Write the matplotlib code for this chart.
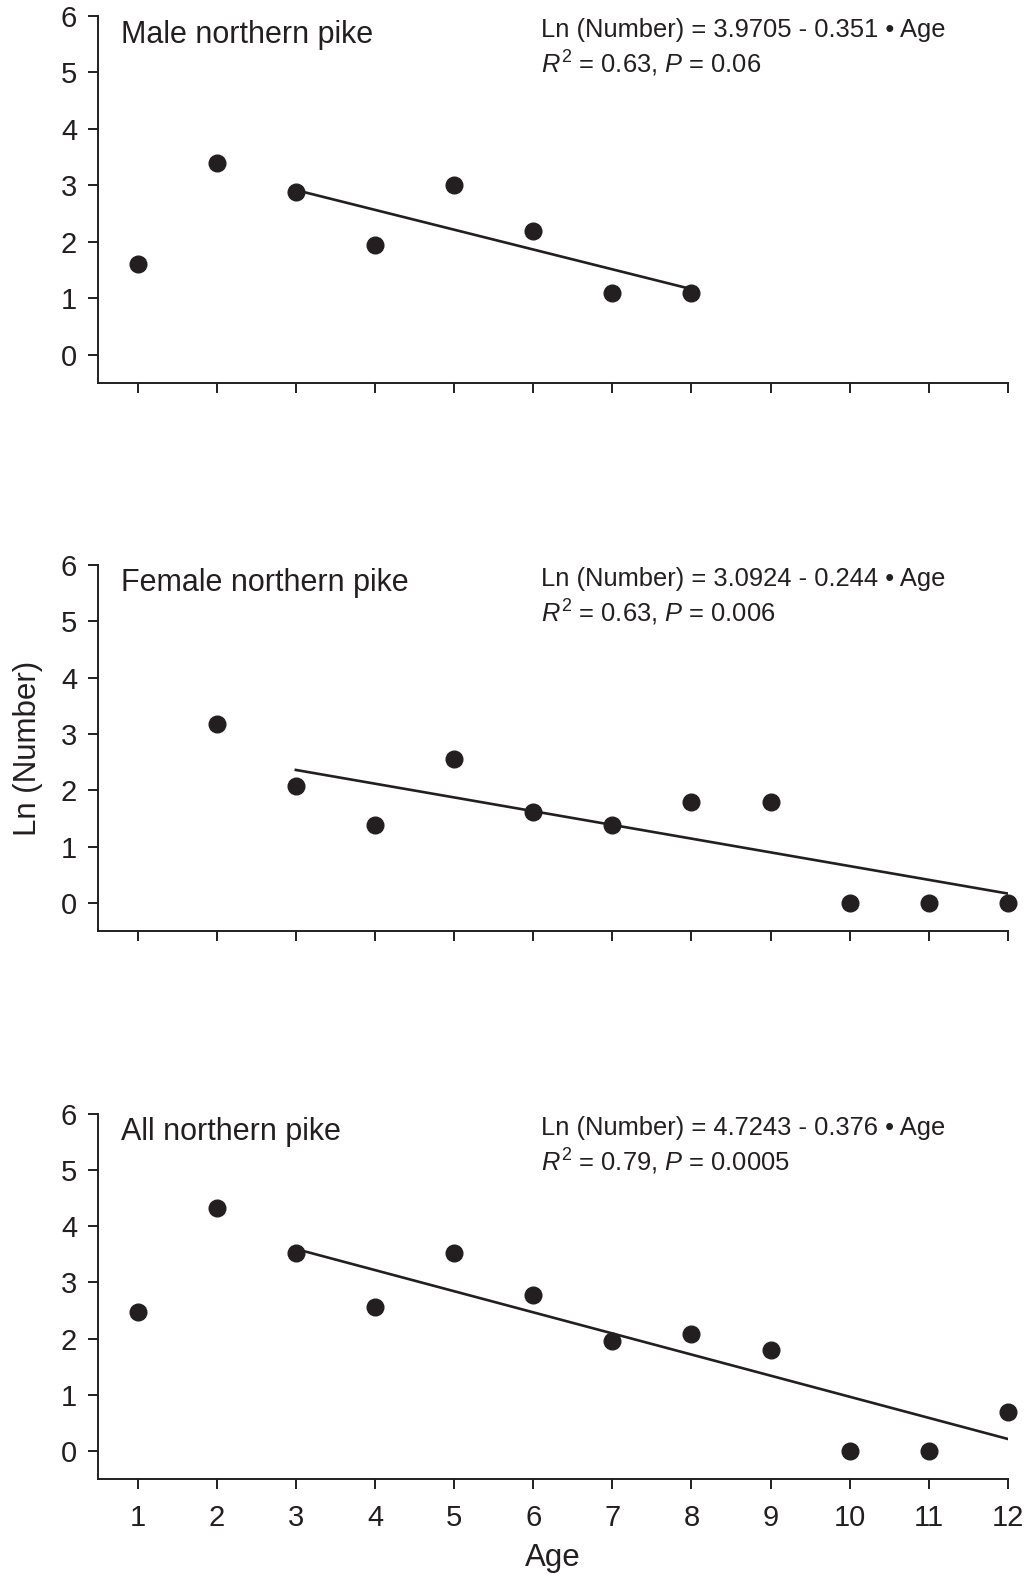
#!/usr/bin/env python
import numpy as np
import matplotlib as mpl

mpl.use("Agg")
from matplotlib import pyplot as plt

plt.rcParams['font.family'] = ['Liberation Sans', 'DejaVu Sans']
plt.rcParams['mathtext.fontset'] = 'custom'
plt.rcParams['mathtext.rm'] = 'Liberation Sans'
plt.rcParams['mathtext.it'] = 'Liberation Sans:italic'

ink = '#231f20'

# data: ages and ln(number) per panel
male_age = [1, 2, 3, 4, 5, 6, 7, 8]
male_ln = [1.61, 3.40, 2.89, 1.95, 3.00, 2.20, 1.10, 1.10]

female_age = [2, 3, 4, 5, 6, 7, 8, 9, 10, 11, 12]
female_ln = [3.18, 2.08, 1.39, 2.56, 1.61, 1.39, 1.79, 1.79, 0.0, 0.0, 0.0]

all_age = [1, 2, 3, 4, 5, 6, 7, 8, 9, 10, 11, 12]
all_ln = [2.48, 4.32, 3.53, 2.56, 3.53, 2.77, 1.95, 2.08, 1.79, 0.0, 0.0, 0.69]

titles = ['Male northern pike', 'Female northern pike', 'All northern pike']
intercepts = [3.9705, 3.0924, 4.7243]
slopes = [0.351, 0.244, 0.376]
fit_range = [(3, 8), (3, 12), (3, 12)]
r2_text = ['0.63', '0.63', '0.79']
p_text = ['0.06', '0.006', '0.0005']
slope_text = ['0.351', '0.244', '0.376']

ages = [male_age, female_age, all_age]
lns = [male_ln, female_ln, all_ln]

W, H = 1032, 1574
fig = plt.figure(figsize=(W / 100, H / 100), dpi=100)

# panel boxes in pixels: (top, bottom)
boxes = [(16, 383), (565, 931), (1114, 1479)]
left_px, right_px = 98, 1008

axes = []
for (top, bot) in boxes:
    ax = fig.add_axes([left_px / W, 1 - bot / H, (right_px - left_px) / W, (bot - top) / H])
    axes.append(ax)

for i, ax in enumerate(axes):
    ax.plot(ages[i], lns[i], 'o', color=ink, markersize=12, zorder=3, clip_on=False)
    a, b = fit_range[i]
    xs = np.array([a, b])
    ax.plot(xs, intercepts[i] - slopes[i] * xs, color=ink, lw=1.9, zorder=2)

    ax.set_xlim(0.5, 12)
    ax.set_ylim(-0.5, 6)
    ax.set_xticks(range(1, 13))
    ax.set_yticks(range(0, 7))
    for s in ['top', 'right']:
        ax.spines[s].set_visible(False)
    for s in ['left', 'bottom']:
        ax.spines[s].set_linewidth(1.4)
        ax.spines[s].set_color(ink)
    ax.tick_params(direction='out', length=7, width=1.4, color=ink,
                   labelsize=21, labelcolor=ink)
    ax.tick_params(axis='y', pad=8)
    ax.tick_params(axis='x', pad=11)
    if i < 2:
        ax.tick_params(axis='x', labelbottom=False)

    ax.text(0.79, 5.53, titles[i], fontsize=22, color=ink, va='baseline')
    ax.text(6.1, 5.62, 'Ln (Number) = %.4f - %s \u2022 Age' % (intercepts[i], slope_text[i]),
            fontsize=18.4, color=ink, va='baseline')
    ax.text(6.1, 4.98, r'$\mathit{R}^{2}$ = %s, $\mathit{P}$ = %s' % (r2_text[i], p_text[i]),
            fontsize=18.4, color=ink, va='baseline')

axes[1].set_ylabel('Ln (Number)', fontsize=22.5, color=ink, labelpad=13)
axes[2].set_xlabel('Age', fontsize=22.5, color=ink, labelpad=8)

fig.savefig('out.png', dpi=100)
